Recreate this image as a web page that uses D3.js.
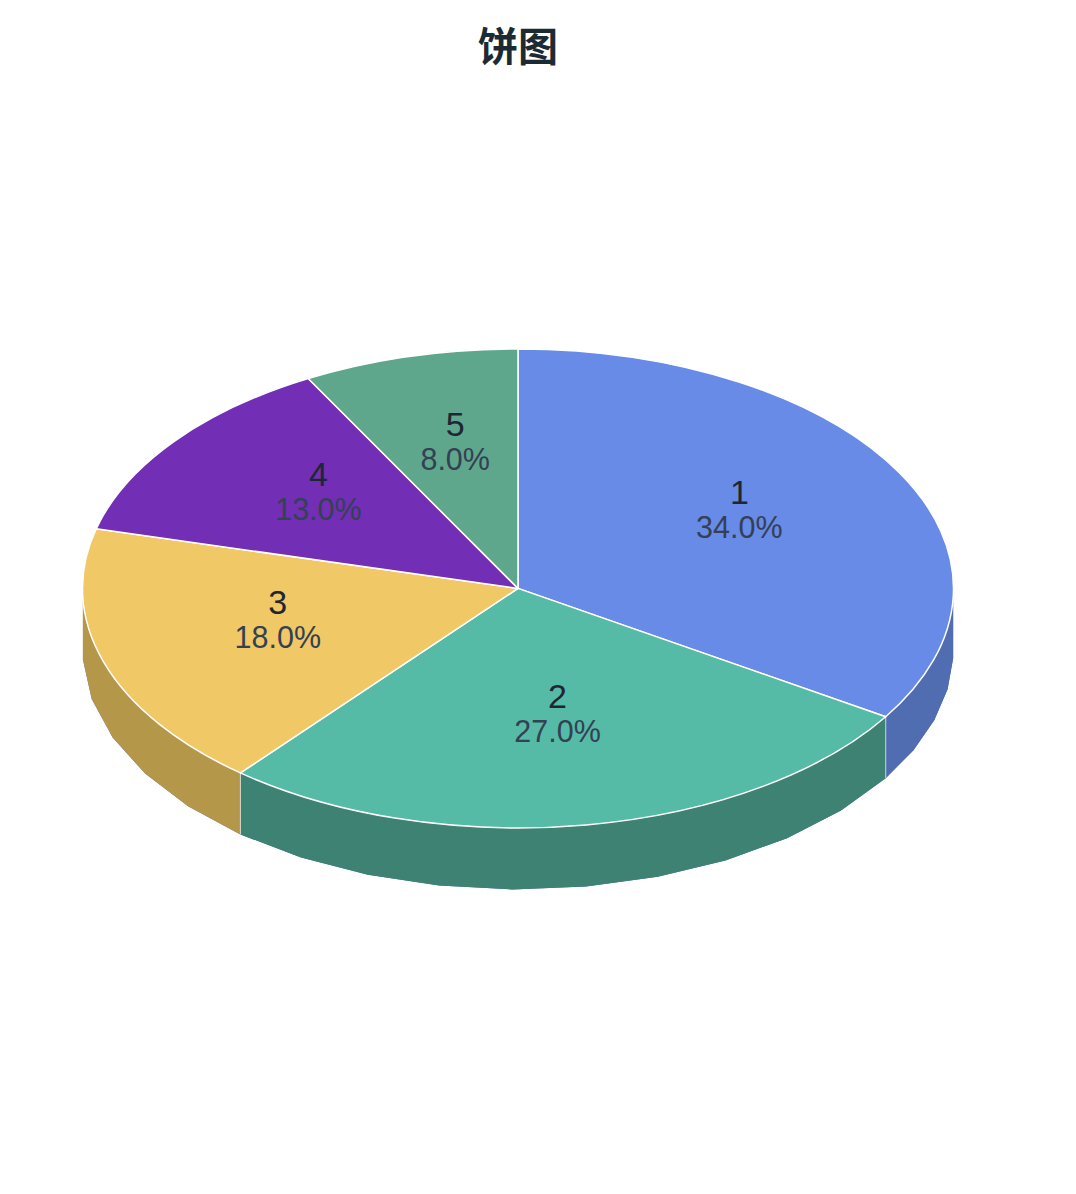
<!DOCTYPE html>
<html>
<head>
<meta charset="utf-8">
<script src="https://cdn.jsdelivr.net/npm/d3@7"></script>
<style>
  html, body { margin: 0; padding: 0; background: #fff; }
  svg { display: block; }
</style>
</head>
<body>
<div id="chart"></div>
<script>
const titleText = '饼图';
const categories = ['1', '2', '3', '4', '5'];
const shares = [34, 27, 18, 13, 8];
const colors = ['#678be7', '#56bba6', '#f0c865', '#722eb5', '#5fa78c'];
const wallColors = ['#4f6db0', '#3d8272', '#b49749', '#56228a', '#477f6a'];
// degrees per wall facet, the rim is visibly polygonal in the original
const facetSteps = [7.65, 9.72, 9.65, 10, 10];

const width = 1076;
const height = 1194;
const cx = 518;
const cy = 588.4;
const rx = 435.5;
const ry = 239.5;
const depth = 61.5;
const labelRadius = 0.58;

const svg = d3
  .select('#chart')
  .append('svg')
  .attr('width', width)
  .attr('height', height)
  .attr('viewBox', [0, 0, width, height]);

const x = d3.scaleLinear().domain([-1, 1]).range([cx - rx, cx + rx]);
const y = d3.scaleLinear().domain([-1, 1]).range([cy - ry, cy + ry]);

const slices = d3.pie().sort(null).value((d) => d)(shares);

const rimX = (a) => x(Math.sin(a));
const rimY = (a) => y(-Math.cos(a));

// facet angles on the front half of the rim, empty for the back slices
const facetAngles = (d, i) => {
  const step = (facetSteps[i] * Math.PI) / 180;
  const lo = Math.max(d.startAngle, Math.PI / 2);
  const hi = Math.min(d.endAngle, (3 * Math.PI) / 2);
  if (lo >= hi) return [];
  const out = [];
  if (d.startAngle < Math.PI / 2) {
    for (let a = hi; a >= lo; a -= step) out.unshift(a);
  } else {
    for (let a = lo; a <= hi; a += step) out.push(a);
    if (d.endAngle <= hi && hi - out[out.length - 1] > 1e-6) out.push(hi);
  }
  return out;
};

const wallPoints = (d, i) => {
  const angles = facetAngles(d, i);
  if (!angles.length) return [];
  const top = angles.map((a) => [rimX(a), rimY(a)]);
  const bottom = angles.map((a) => [rimX(a), rimY(a) + depth]).reverse();
  const pts = top.concat(bottom);
  // the outer edges run straight up to the widest point of the ellipse
  if (d.startAngle < Math.PI / 2) pts.push([rimX(angles[0]), cy]);
  if (d.endAngle > (3 * Math.PI) / 2) pts.splice(angles.length, 0, [rimX(angles[angles.length - 1]), cy]);
  return pts;
};

const baseOutline = slices.flatMap((d, i) =>
  facetAngles(d, i).map((a) => [rimX(a), rimY(a) + depth])
);

// shows as a faint fringe around the walls
svg
  .append('polygon')
  .attr('points', baseOutline.join(' '))
  .attr('fill', wallColors[0]);

svg
  .append('g')
  .selectAll('polygon')
  .data(slices)
  .join('polygon')
  .attr('points', (d, i) => wallPoints(d, i).join(' '))
  .attr('fill', (d, i) => wallColors[i]);

// seams between the walls, only where the rim faces the viewer
const seams = slices.map((d) => d.startAngle).filter((a) => Math.cos(a) < 0);

svg
  .append('g')
  .selectAll('line')
  .data(seams)
  .join('line')
  .attr('x1', rimX)
  .attr('x2', rimX)
  .attr('y1', rimY)
  .attr('y2', (a) => rimY(a) + depth)
  .attr('stroke', '#fff')
  .attr('stroke-opacity', 0.7)
  .attr('stroke-width', 1);

const arc = d3.arc().innerRadius(0).outerRadius(rx);

svg
  .append('g')
  .attr('transform', `translate(${cx},${cy}) scale(1,${ry / rx})`)
  .selectAll('path')
  .data(slices)
  .join('path')
  .attr('d', arc)
  .attr('fill', (d, i) => colors[i])
  .attr('stroke', '#fff')
  .attr('stroke-width', 1.5)
  .attr('stroke-linejoin', 'round')
  .attr('vector-effect', 'non-scaling-stroke');

const labels = svg
  .append('g')
  .attr('font-family', '"Liberation Sans", Arial, sans-serif')
  .attr('text-anchor', 'middle')
  .selectAll('g')
  .data(slices)
  .join('g')
  .attr('transform', (d) => {
    const a = (d.startAngle + d.endAngle) / 2;
    return `translate(${x(labelRadius * Math.sin(a))},${y(-labelRadius * Math.cos(a))})`;
  });

labels
  .append('text')
  .attr('y', -29.4)
  .attr('dy', '0.35em')
  .attr('font-size', 34)
  .attr('fill', '#1f2633')
  .text((d, i) => categories[i]);

labels
  .append('text')
  .attr('y', 5.6)
  .attr('dy', '0.35em')
  .attr('font-size', 30.5)
  .attr('fill', '#344054')
  .text((d, i) => `${shares[i].toFixed(1)}%`);

svg
  .append('text')
  .attr('x', cx)
  .attr('y', 47)
  .attr('dy', '0.35em')
  .attr('text-anchor', 'middle')
  .attr('font-family', '"Noto Sans CJK SC", sans-serif')
  .attr('font-weight', 700)
  .attr('font-size', 40)
  .attr('fill', '#1b2a33')
  .text(titleText);
</script>
</body>
</html>
